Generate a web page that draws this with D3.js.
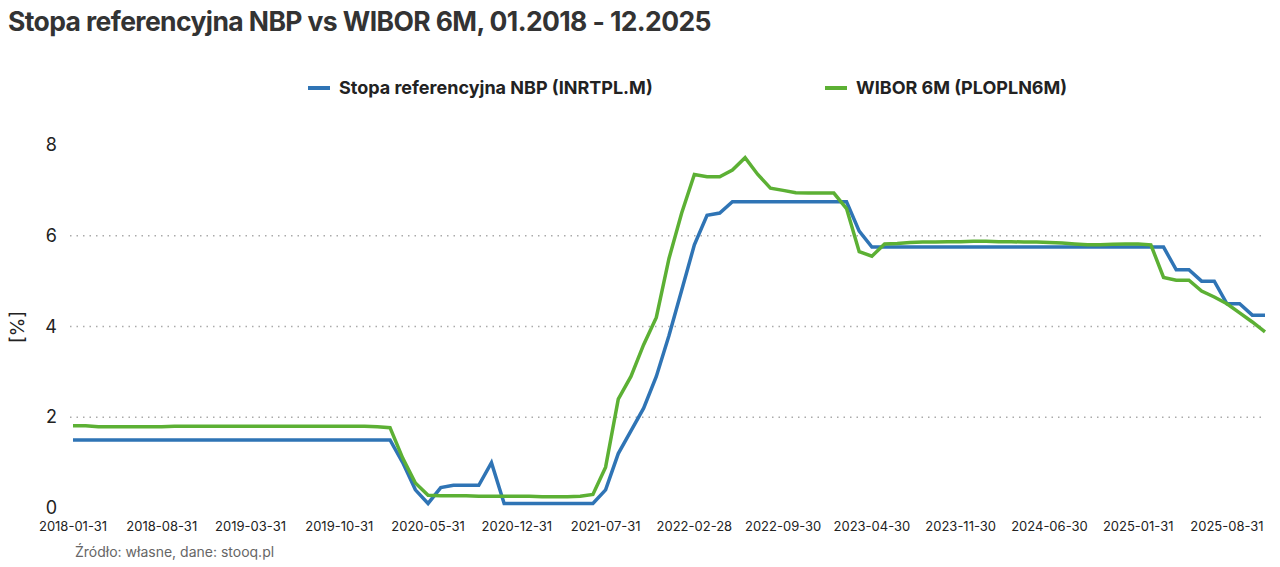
<!DOCTYPE html>
<html><head><meta charset="utf-8">
<script src="https://cdn.jsdelivr.net/npm/d3@7"></script>
<style>body{margin:0;background:#fff;font-family:Inter,"Noto Sans",sans-serif;}</style>
</head><body>
<svg id="chart" width="1280" height="567"></svg>
<script>
// month-end points 2018-01 .. 2025-12, one per month
var tickLabels = ["2018-01-31","2018-08-31","2019-03-31","2019-10-31","2020-05-31","2020-12-31","2021-07-31",
  "2022-02-28","2022-09-30","2023-04-30","2023-11-30","2024-06-30","2025-01-31","2025-08-31"];

var nbp = [1.5,1.5,1.5,1.5,1.5,1.5,1.5,1.5,1.5,1.5,1.5,1.5,1.5,1.5,1.5,1.5,1.5,1.5,1.5,1.5,1.5,1.5,1.5,1.5,1.5,
  1.5,1.0,0.4,0.1,0.45,0.5,0.5,0.5,1.0,0.1,0.1,0.1,0.1,0.1,0.1,0.1,0.1,
  0.4,1.2,1.7,2.2,2.9,3.8,4.8,5.8,6.45,6.5,6.75,6.75,6.75,6.75,6.75,6.75,6.75,6.75,6.75,6.75,6.1,
  5.75,5.75,5.75,5.75,5.75,5.75,5.75,5.75,5.75,5.75,5.75,5.75,5.75,5.75,5.75,5.75,5.75,5.75,5.75,5.75,5.75,5.75,5.75,
  5.75,5.25,5.25,5.0,5.0,4.5,4.5,4.25,4.25];
var wibor = [1.81,1.81,1.79,1.79,1.79,1.79,1.79,1.79,1.8,1.8,1.8,1.8,1.8,1.8,1.8,1.8,1.8,1.8,1.8,1.8,1.8,1.8,1.8,1.8,1.79,
  1.77,1.1,0.55,0.28,0.27,0.27,0.27,0.26,0.26,0.26,0.26,0.26,0.25,0.25,0.25,0.26,0.3,
  0.9,2.4,2.9,3.6,4.2,5.5,6.5,7.35,7.3,7.3,7.45,7.72,7.35,7.05,7.0,6.95,6.94,6.94,6.94,6.6,5.65,
  5.55,5.82,5.83,5.85,5.86,5.86,5.87,5.87,5.88,5.88,5.87,5.87,5.86,5.86,5.85,5.84,5.82,5.8,5.8,5.81,5.82,5.82,5.8,
  5.08,5.02,5.02,4.78,4.65,4.5,4.3,4.1,3.88];

var svg = d3.select("#chart");
var x = d3.scaleLinear().domain([0, nbp.length - 1]).range([73, 1265]);
var y = d3.scaleLinear().domain([0, 8]).range([508, 145]);

svg.append("text").attr("x", 8).attr("y", 31).text("Stopa referencyjna NBP vs WIBOR 6M, 01.2018 - 12.2025")
  .attr("font-size", "26.5px").attr("font-weight", "bold").attr("fill", "#333").attr("letter-spacing", "-0.6px");

//grid
svg.selectAll(".grid").data([2, 4, 6]).enter().append("line")
  .attr("x1", 70).attr("x2", 1265).attr("y1", d => y(d)).attr("y2", d => y(d))
  .attr("stroke", "#aaa").attr("stroke-width", 1.5).attr("stroke-dasharray", "1.5,5");

svg.selectAll(".yt").data([0, 2, 4, 6, 8]).enter().append("text")
  .attr("x", 57).attr("y", d => y(d) + 6).attr("text-anchor", "end")
  .attr("font-size", "18px").attr("fill", "#222").text(d => d);

svg.append("text").attr("transform", "translate(24,327) rotate(-90)").attr("text-anchor", "middle")
  .attr("font-size", "19px").attr("fill", "#222").text("[%]");

svg.selectAll(".xt").data(tickLabels).enter().append("text")
  .attr("x", (d, i) => x(i * 7)).attr("y", 531).attr("text-anchor", "middle")
  .attr("font-size", "13px").attr("fill", "#222").text(d => d);

svg.append("text").attr("x", 75).attr("y", 557).attr("font-size", "14px").attr("fill", "#666")
  .text("Źródło: własne, dane: stooq.pl");

var line = d3.line().x((d, i) => x(i)).y(d => y(d));
svg.append("path").datum(nbp).attr("d", line).attr("fill", "none")
  .attr("stroke", "#2f74b5").attr("stroke-width", 3.5);
svg.append("path").datum(wibor).attr("d", line).attr("fill", "none")
  .attr("stroke", "#5cb034").attr("stroke-width", 3.5);

//legend
var legend = [{t: "Stopa referencyjna NBP (INRTPL.M)", c: "#2f74b5", x: 308},
  {t: "WIBOR 6M (PLOPLN6M)", c: "#5cb034", x: 825}];
legend.forEach(function (l) {
  svg.append("line").attr("x1", l.x).attr("x2", l.x + 22).attr("y1", 88).attr("y2", 88)
    .attr("stroke", l.c).attr("stroke-width", 4);
  svg.append("text").attr("x", l.x + 31).attr("y", 94).attr("font-size", "18px")
    .attr("font-weight", "bold").attr("fill", "#222").text(l.t);
});
</script>
</body></html>
